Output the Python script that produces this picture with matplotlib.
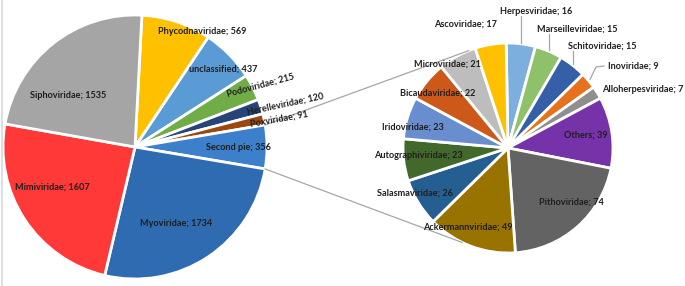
import numpy as np
import matplotlib
matplotlib.use("Agg")
import matplotlib.pyplot as plt

W, H = 685, 286

# main pie, clockwise from 12 o'clock
main_names = ["Phycodnaviridae", "unclassified", "Podoviridae", "Herelleviridae",
              "Poxviridae", "Second pie", "Myoviridae", "Mimiviridae", "Siphoviridae"]
main_values = [569, 437, 215, 120, 91, 356, 1734, 1607, 1535]
main_colors = ["#FFC000", "#5B9BD5", "#70AD47", "#264478", "#9E480E",
               "#3C7FCB", "#2E6BB0", "#FF3838", "#A5A5A5"]

# second pie (breakdown of "Second pie"), clockwise from 12 o'clock
second_names = ["Herpesviridae", "Marseilleviridae", "Schitoviridae", "Inoviridae",
                "Alloherpesviridae", "Others", "Pithoviridae", "Ackermannviridae",
                "Salasmaviridae", "Autographiviridae", "Iridoviridae", "Bicaudaviridae",
                "Microviridae", "Ascoviridae"]
second_values = [16, 15, 15, 9, 7, 39, 74, 49, 26, 23, 23, 22, 21, 17]
second_colors = ["#7CAFDD", "#8FC16B", "#3560A8", "#E8711E", "#8F8F8F", "#7632A8",
                 "#636363", "#997300", "#255E91", "#43682B", "#698ED0", "#CD581A",
                 "#BDBDBD", "#FFC000"]

# layout (image pixel coords, y down)
c1, r1 = (135, 147), 132
c2, r2 = (508, 148), 105

main_lab = {
    "Phycodnaviridae": (202, 32, 0), "unclassified": (223, 69, 0),
    "Podoviridae": (261, 85, 15), "Herelleviridae": (285, 104, 12),
    "Poxviridae": (279, 119, 10), "Second pie": (238, 148, 0),
    "Myoviridae": (176, 223, 0), "Mimiviridae": (52, 187, 0),
    "Siphoviridae": (68, 95, 0),
}
second_lab = {
    "Ascoviridae": (465, 24), "Herpesviridae": (536, 11),
    "Marseilleviridae": (577, 29), "Schitoviridae": (602, 46),
    "Inoviridae": (633, 66), "Alloherpesviridae": (643, 90),
    "Others": (586, 135), "Pithoviridae": (571, 202),
    "Ackermannviridae": (468, 227), "Salasmaviridae": (415, 193),
    "Autographiviridae": (418, 156), "Iridoviridae": (413, 127),
    "Bicaudaviridae": (438, 93), "Microviridae": (447, 64),
}

fig = plt.figure(figsize=(W / 100, H / 100), dpi=100)
ax = fig.add_axes([0, 0, 1, 1])

wp = dict(edgecolor="white", linewidth=2)
w1, _ = ax.pie(main_values, colors=main_colors, startangle=87, counterclock=False,
               radius=r1, center=(c1[0], H - c1[1]), wedgeprops=wp)
w2, _ = ax.pie(second_values, colors=second_colors, startangle=91, counterclock=False,
               radius=r2, center=(c2[0], H - c2[1]), wedgeprops=wp)

ax.set_xlim(0, W)
ax.set_ylim(0, H)
ax.set_aspect("equal")
ax.axis("off")

tp = dict(fontsize=6.6, fontweight="bold", family=["Lato", "DejaVu Sans"],
          color="#1F1F1F", ha="center", va="center")

for name, val in zip(main_names, main_values):
    x, y, rot = main_lab[name]
    ax.text(x, H - y, f"{name}; {val}", rotation=rot, rotation_mode="anchor", **tp)

for name, val in zip(second_names, second_values):
    x, y = second_lab[name]
    ax.text(x, H - y, f"{name}; {val}", **tp)

def pt(c, r, ang):
    a = np.deg2rad(ang)
    return c[0] + r * np.cos(a), H - c[1] + r * np.sin(a)

# connector lines between the two pies
sp = w1[main_names.index("Second pie")]
for a_from, a_to in [(sp.theta2, 112), (sp.theta1, -116)]:
    x0, y0 = pt(c1, r1, a_from)
    x1, y1 = pt(c2, r2, a_to)
    ax.plot([x0, x1], [y0, y1], color="#A6A6A6", lw=0.9)

# leader lines for the small outer labels
for name in ["Herpesviridae", "Marseilleviridae", "Schitoviridae"]:
    w = w2[second_names.index(name)]
    mid = (w.theta1 + w.theta2) / 2
    x0, y0 = pt(c2, r2 + 1, mid)
    ax.plot([x0, x0], [y0, H - second_lab[name][1] - 5], color="#A6A6A6", lw=0.9)
w = w2[second_names.index("Inoviridae")]
x0, y0 = pt(c2, r2 + 2, (w.theta1 + w.theta2) / 2)
ax.plot([x0, x0 + 6, x0 + 14], [y0, H - 67, H - 66], color="#A6A6A6", lw=0.9)

# left frame edge
ax.plot([2, 2], [0, H], color="#D9D9D9", lw=1.2)

fig.savefig("out.png", dpi=100)
